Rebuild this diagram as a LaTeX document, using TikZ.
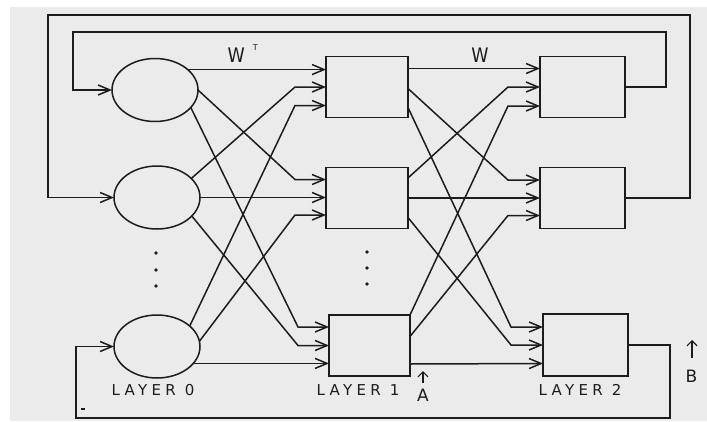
\documentclass[tikz,border=0pt]{standalone}
\usepackage{fontspec}
\newfontfamily\lblfont[LetterSpace=29]{DejaVu Sans}
\newfontfamily\wfont{DejaVu Sans}
\usetikzlibrary{shapes.geometric,arrows.meta,calc}
\definecolor{paper}{HTML}{EBEBEB}
\definecolor{ink}{HTML}{1C1C1C}
\begin{document}
\begin{tikzpicture}[x=1pt,y=-1pt,
  ln/.style={line width=1.5pt, draw=ink},
  arr/.style={ln, -{Straight Barb[length=12pt,width=10pt]}},
  smallarr/.style={line width=1.2pt, draw=ink, -{Straight Barb[length=5pt,width=10pt]}},
  neuron/.style={ellipse, ln, minimum width=86pt, minimum height=63pt, inner sep=0pt, outer sep=0pt},
  unit/.style={rectangle, ln, minimum height=61pt, inner sep=0pt, outer sep=0pt},
  lbl/.style={font=\lblfont\fontsize{15}{15}\selectfont, text=ink, inner sep=0pt},
  ablbl/.style={font=\wfont\fontsize{17}{17}\selectfont, text=ink, inner sep=0pt},
  wlbl/.style={font=\wfont\fontsize{20}{20}\selectfont, text=ink, inner sep=0pt},
  dot/.style={fill=ink}
]
\useasboundingbox (0,0) rectangle (707,421);
\fill[white] (0,0) rectangle (707,421);
\fill[paper] (10,7) rectangle (707,421);

% layer 0
\node[neuron] (e1) at (155,90) {};
\node[neuron] (e2) at (157,197.5) {};
\node[neuron] (e3) at (157,346.5) {};
% layer 1
\node[unit, minimum width=82pt] (a1) at (367,87) {};
\node[unit, minimum width=82pt] (a2) at (367,198) {};
\node[unit, minimum width=81pt] (a3) at (369.5,345.5) {};
% layer 2
\node[unit, minimum width=85pt] (b1) at (582.5,87) {};
\node[unit, minimum width=85pt] (b2) at (582.5,198) {};
\node[unit, minimum width=85pt, minimum height=62pt] (b3) at (585.5,345) {};

% layer 0 -> layer 1
\draw[arr] (e1.32) -- (e1.32 -| a1.west);
\draw[arr] (e1.0) -- ($(a2.west)+(-31,-18.5)$) -- ($(a2.west)+(0,-18.5)$);
\draw[arr] (e1.-26) -- ($(a3.west)+(-31,-18.5)$) -- ($(a3.west)+(0,-18.5)$);
\draw[arr] (e2.29) -- ($(a1.west)+(-31,0)$) -- (a1.west);
\draw[arr] (e2.east) -- (e2.east -| a2.west);
\draw[arr] (e2.-28) -- ($(a3.west)+(-31,0)$) -- (a3.west);
\draw[arr] (e3.32) -- ($(a1.west)+(-31,18.5)$) -- ($(a1.west)+(0,18.5)$);
\draw[arr] (e3.7) -- ($(a2.west)+(-31,17)$) -- ($(a2.west)+(0,17)$);
\draw[arr] (e3.-25) -- (e3.-25 -| a3.west);

% layer 1 -> layer 2
\draw[arr] ($(a1.east)+(0,-18.5)$) -- ($(b1.west)+(0,-18.5)$);
\draw[arr] ($(a1.east)+(0,1.5)$) -- ($(b2.west)+(-32,-18)$) -- ($(b2.west)+(0,-18)$);
\draw[arr] ($(a1.east)+(0,20.5)$) -- ($(b3.west)+(-32,-18)$) -- ($(b3.west)+(0,-18)$);
\draw[arr] ($(a2.east)+(0,-20)$) -- ($(b1.west)+(-32,0)$) -- (b1.west);
\draw[arr] (a2.east) -- (b2.west);
\draw[arr] ($(a2.east)+(0,19.5)$) -- ($(b3.west)+(-32,0)$) -- (b3.west);
\draw[arr] (a3.north east) -- ($(b1.west)+(-32,19)$) -- ($(b1.west)+(0,19)$);
\draw[arr] ($(a3.east)+(0,-9)$) -- ($(b2.west)+(-32,17.5)$) -- ($(b2.west)+(0,17.5)$);
\draw[arr] ($(a3.east)+(0,18.5)$) -- ($(b3.west)+(0,18.5)$);

% feedback loops
\coordinate (t1) at (690,15);
\coordinate (t2) at (48,15);
\draw[arr] (b2.east) -| (t1) -- (t2) |- (e2.west);
\coordinate (u1) at (666,32);
\coordinate (u2) at (73,32);
\draw[arr] (b1.east) -| (u1) -- (u2) |- (e1.west);
\coordinate (v1) at (670,418);
\coordinate (v2) at (76,418);
\draw[arr] (b3.east) -| (v1) -- (v2) |- (e3.west);

% dots
\fill[dot] (156,253) circle (1.9);
\fill[dot] (156,270) circle (1.9);
\fill[dot] (156,286) circle (1.9);
\fill[dot] (367,252) circle (1.9);
\fill[dot] (367,268) circle (1.9);
\fill[dot] (367,284) circle (1.9);

% labels
\node[wlbl, anchor=base west] (wt) at (227.5,62.5) {\scalebox{0.87}[1]{W}\hspace{8pt}\raisebox{12pt}{\fontsize{8}{8}\selectfont T}};
\node[wlbl] (w) at (480,55) {\scalebox{0.87}[1]{W}};
\node[lbl] (l0) at (153,390.5) {LAYER 0};
\node[lbl] (l1) at (358,390.5) {LAYER 1};
\node[lbl] (l2) at (580,390) {LAYER 2};
\node[ablbl] (la) at (423,395) {A};
\node[ablbl] (lb) at (691.5,376) {B};
\coordinate (abase) at (423,383);
\coordinate (atip) at (423,371);
\draw[smallarr] (abase) -- (atip);
\coordinate (bbase) at (692,358);
\coordinate (btip) at (692,340);
\draw[smallarr] (bbase) -- (btip);
\draw[line width=1.5pt, draw=ink] (81,409) -- (85,409);
\end{tikzpicture}
\end{document}
